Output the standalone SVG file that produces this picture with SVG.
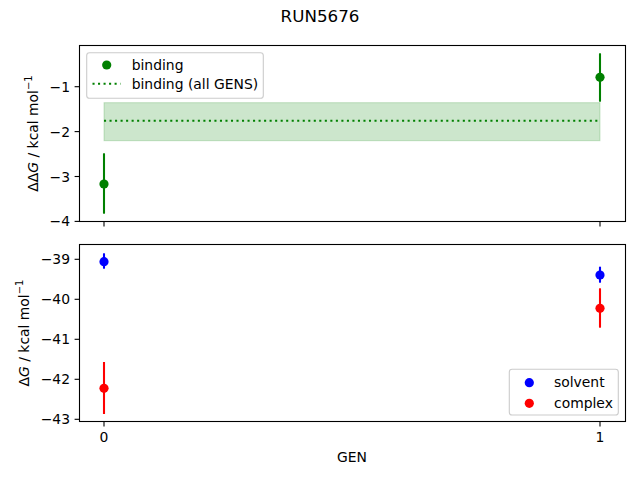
<svg xmlns="http://www.w3.org/2000/svg" width="640" height="480" viewBox="0 0 640 480">
<style>
text{font-family:"DejaVu Sans",sans-serif;fill:#000}
.tk{font-size:13.9px}
.ty{font-size:13.9px;text-anchor:end}
.tx{font-size:13.9px;text-anchor:middle}
.spine{fill:none;stroke:#000;stroke-width:1.1}
.tick{stroke:#000;stroke-width:1.1}
.g{fill:#008000}.ge{stroke:#008000;stroke-width:2.08}
.b{fill:#0000ff}.be{stroke:#0000ff;stroke-width:2.08}
.r{fill:#ff0000}.re{stroke:#ff0000;stroke-width:2.08}
.leg{fill:#fff;fill-opacity:0.8;stroke:#cccccc;stroke-width:1.1}
</style>
<rect width="640" height="480" fill="#fff"/>
<text x="320" y="21.7" style="font-size:16.7px;text-anchor:middle">RUN5676</text>

<g id="top-axes">
<rect x="104" y="102.7" width="496" height="38" fill="#008000" fill-opacity="0.2" stroke="#008000" stroke-opacity="0.2"/>
<line x1="104" y1="120.7" x2="600" y2="120.7" stroke="#008000" stroke-width="2.08" stroke-dasharray="2.08 3.44"/>
<line class="ge" x1="104" y1="153.3" x2="104" y2="213.7"/>
<circle class="g" cx="104" cy="184" r="4.6"/>
<line class="ge" x1="600" y1="53.3" x2="600" y2="101.7"/>
<circle class="g" cx="600" cy="77.3" r="4.6"/>
<rect class="spine" x="79.5" y="45.5" width="546" height="176"/>
<g class="tick">
<line x1="79.5" y1="86.7" x2="74.6" y2="86.7"/>
<line x1="79.5" y1="131.6" x2="74.6" y2="131.6"/>
<line x1="79.5" y1="176.5" x2="74.6" y2="176.5"/>
<line x1="79.5" y1="221.4" x2="74.6" y2="221.4"/>
<line x1="104" y1="221.5" x2="104" y2="226.4"/>
<line x1="600" y1="221.5" x2="600" y2="226.4"/>
</g>
<text class="ty" x="70" y="91.7">−1</text>
<text class="ty" x="70" y="136.6">−2</text>
<text class="ty" x="70" y="181.5">−3</text>
<text class="ty" x="70" y="226.4">−4</text>
<text transform="translate(37.8,133.5) rotate(-90)" class="tx">ΔΔ<tspan font-style="italic">G</tspan> / kcal mol<tspan dy="-6" font-size="10px">−1</tspan></text>
<g id="legend-top">
<rect class="leg" x="86.7" y="52.7" width="176.6" height="45.6" rx="2.8"/>
<circle class="g" cx="106.7" cy="65" r="4.6"/>
<text class="tk" x="131.7" y="70">binding</text>
<line x1="92.5" y1="83.7" x2="120.5" y2="83.7" stroke="#008000" stroke-width="2.08" stroke-dasharray="2.08 3.44"/>
<text class="tk" x="131.7" y="88.8">binding (all GENS)</text>
</g>
</g>

<g id="bottom-axes">
<line class="be" x1="104" y1="253.3" x2="104" y2="268.7"/>
<circle class="b" cx="104" cy="261.7" r="4.6"/>
<line class="re" x1="104" y1="362" x2="104" y2="414"/>
<circle class="r" cx="104" cy="388.3" r="4.6"/>
<line class="be" x1="600" y1="266.7" x2="600" y2="282.7"/>
<circle class="b" cx="600" cy="275" r="4.6"/>
<line class="re" x1="600" y1="288.3" x2="600" y2="327.7"/>
<circle class="r" cx="600" cy="308.3" r="4.6"/>
<rect class="spine" x="79.5" y="244.5" width="546" height="177"/>
<g class="tick">
<line x1="79.5" y1="259.3" x2="74.6" y2="259.3"/>
<line x1="79.5" y1="299.3" x2="74.6" y2="299.3"/>
<line x1="79.5" y1="339.3" x2="74.6" y2="339.3"/>
<line x1="79.5" y1="379.3" x2="74.6" y2="379.3"/>
<line x1="79.5" y1="419.3" x2="74.6" y2="419.3"/>
<line x1="104" y1="421.5" x2="104" y2="426.4"/>
<line x1="600" y1="421.5" x2="600" y2="426.4"/>
</g>
<text class="ty" x="70" y="264.3">−39</text>
<text class="ty" x="70" y="304.3">−40</text>
<text class="ty" x="70" y="344.3">−41</text>
<text class="ty" x="70" y="384.3">−42</text>
<text class="ty" x="70" y="424.3">−43</text>
<text class="tx" x="104" y="441.7">0</text>
<text class="tx" x="600" y="441.7">1</text>
<text class="tx" x="352" y="462.3">GEN</text>
<text transform="translate(29,333) rotate(-90)" class="tx">Δ<tspan font-style="italic">G</tspan> / kcal mol<tspan dy="-6" font-size="10px">−1</tspan></text>
<g id="legend-bottom">
<rect class="leg" x="509.3" y="369.3" width="109" height="45.7" rx="2.8"/>
<circle class="b" cx="529.3" cy="382.7" r="4.6"/>
<text class="tk" x="554" y="387.2">solvent</text>
<circle class="r" cx="529.3" cy="403.3" r="4.6"/>
<text class="tk" x="554" y="407.8">complex</text>
</g>
</g>
</svg>
